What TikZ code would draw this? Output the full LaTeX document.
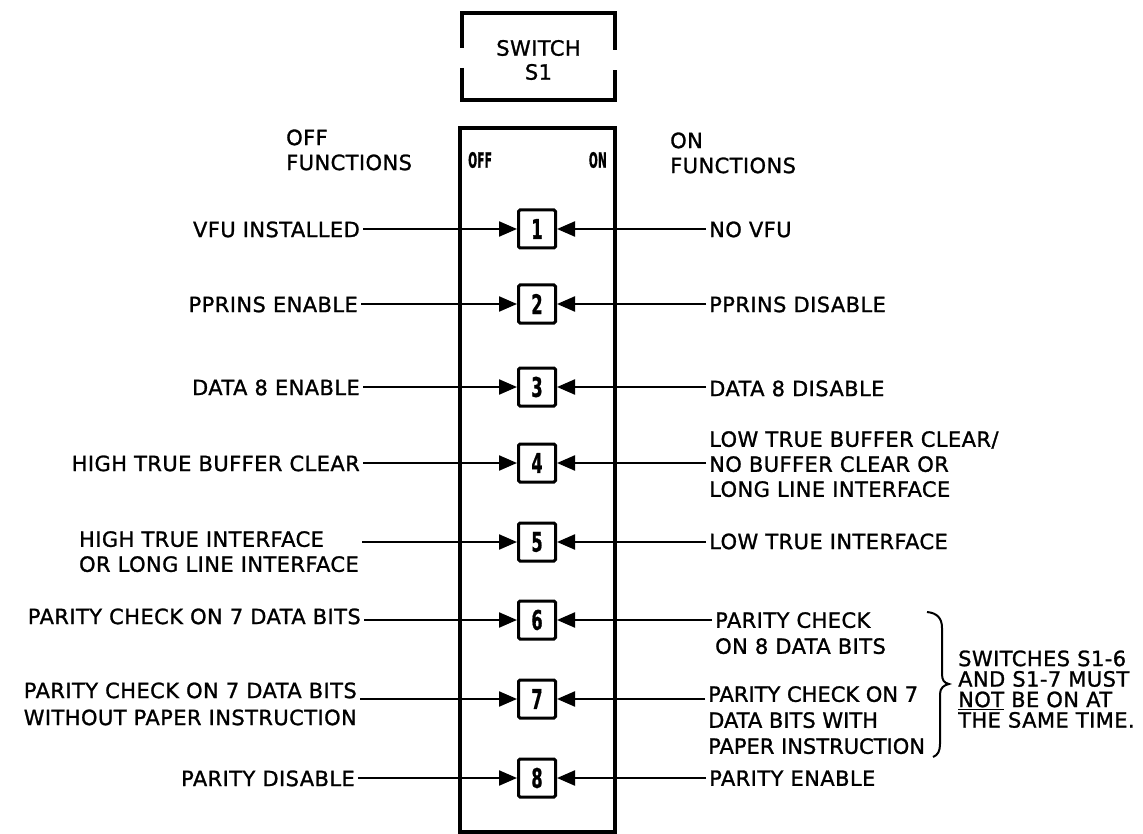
\documentclass[tikz,border=0pt]{standalone}
\usepackage{fontspec}
\setmainfont{DejaVu Sans}[LetterSpace=2, FakeBold=1.2]
\usepackage{graphicx}
\usetikzlibrary{arrows.meta}
\begin{document}
\begin{tikzpicture}[x=1pt,y=-1pt,
  txt/.style={inner ysep=0pt, inner xsep=3pt, font=\fontsize{21}{25}\selectfont},
  ltxt/.style={txt, anchor=north east, align=right},
  ltxtl/.style={txt, anchor=north east, align=left},
  rtxt/.style={txt, anchor=north west, align=left},
  swbox/.style={draw, line width=3pt, rounded corners=1.5pt, minimum width=37pt, minimum height=38pt, inner sep=0pt, font=\bfseries\fontsize{27}{27}\selectfont},
  conn/.style={line width=2.2pt, -{Triangle[length=18pt,width=15pt]}},
  frame/.style={line width=3.2pt},
  tag/.style={inner sep=0pt, font=\bfseries\fontsize{21}{21}\selectfont}]

\useasboundingbox (0,0) rectangle (1143,834);

% title box with side gaps
\draw[frame] (462,48) -- (462,13) -- (615,13) -- (615,50);
\draw[frame] (462,68) -- (462,100) -- (615,100) -- (615,70);
\node[txt, align=center, font=\fontsize{21}{24}\selectfont] (title) at (538.5,60) {SWITCH\\S1};

% switch body
\draw[frame] (460,128) rectangle (615,832);
\node[tag, anchor=west] (offl) at (468,160) {\scalebox{0.5}[1]{OFF}};
\node[tag, anchor=east] (onl) at (607,160) {\scalebox{0.5}[1]{ON}};

% column headings
\node[rtxt] (offh) at (283,129.3) {OFF\\FUNCTIONS};
\node[rtxt] (onh) at (667,132.3) {ON\\FUNCTIONS};

% switches
\node[swbox] (b1) at (537,229) {\scalebox{0.6}[1]{1}};
\node[swbox] (b2) at (537,304) {\scalebox{0.6}[1]{2}};
\node[swbox] (b3) at (537,387) {\scalebox{0.6}[1]{3}};
\node[swbox] (b4) at (537,463) {\scalebox{0.6}[1]{4}};
\node[swbox] (b5) at (537,542) {\scalebox{0.6}[1]{5}};
\node[swbox] (b6) at (537,620) {\scalebox{0.6}[1]{6}};
\node[swbox] (b7) at (537,699) {\scalebox{0.6}[1]{7}};
\node[swbox] (b8) at (537,778) {\scalebox{0.6}[1]{8}};

% off functions
\node[ltxt] (l1) at (363,221.3) {VFU INSTALLED};
\node[ltxt] (l2) at (361,296.3) {PPRINS ENABLE};
\node[ltxt] (l3) at (363,379.3) {DATA 8 ENABLE};
\node[ltxt] (l4) at (363,455.3) {HIGH TRUE BUFFER CLEAR};
\node[ltxtl] (l5) at (362,531) {HIGH TRUE INTERFACE\\OR LONG LINE INTERFACE};
\node[ltxt] (l6) at (364,608.3) {PARITY CHECK ON 7 DATA BITS};
\node[ltxt, font=\fontsize{21}{27}\selectfont] (l7) at (360,682.3) {PARITY CHECK ON 7 DATA BITS\\WITHOUT PAPER INSTRUCTION};
\node[ltxt] (l8) at (358,770.3) {PARITY DISABLE};

% on functions
\node[rtxt] (r1) at (706,221.3) {NO VFU};
\node[rtxt] (r2) at (706,296.3) {PPRINS DISABLE};
\node[rtxt] (r3) at (706,380.3) {DATA 8 DISABLE};
\node[rtxt] (r4) at (706,431) {LOW TRUE BUFFER CLEAR/\\NO BUFFER CLEAR OR\\LONG LINE INTERFACE};
\node[rtxt] (r5) at (706,533.3) {LOW TRUE INTERFACE};
\node[rtxt, font=\fontsize{21}{26}\selectfont] (r6) at (712,612) {PARITY CHECK\\ON 8 DATA BITS};
\node[rtxt, font=\fontsize{21}{26}\selectfont\addfontfeatures{LetterSpace=0}] (r7) at (705,686) {PARITY CHECK ON 7\\DATA BITS WITH\\PAPER INSTRUCTION};
\node[rtxt] (r8) at (706,770.3) {PARITY ENABLE};

% connectors
\foreach \i in {1,...,8}{
  \draw[conn] (l\i.east |- b\i.west) -- (b\i.west);
  \draw[conn] (r\i.west |- b\i.east) -- (b\i.east);
}

% brace and note
\draw[line width=2pt] (927,612) .. controls (937,613) and (942,618) .. (942,628) -- (942,674)
  .. controls (942,680) and (944,683) .. (949,684)
  .. controls (944,685) and (940,688) .. (940,694) -- (940,744)
  .. controls (940,751) and (938,755) .. (933,757);
\node[rtxt, font=\fontsize{21}{20.5}\selectfont] (note) at (955,650.3)
  {SWITCHES S1-6\\AND S1-7 MUST\\\underline{NOT} BE ON AT\\THE SAME TIME.};
\end{tikzpicture}
\end{document}
